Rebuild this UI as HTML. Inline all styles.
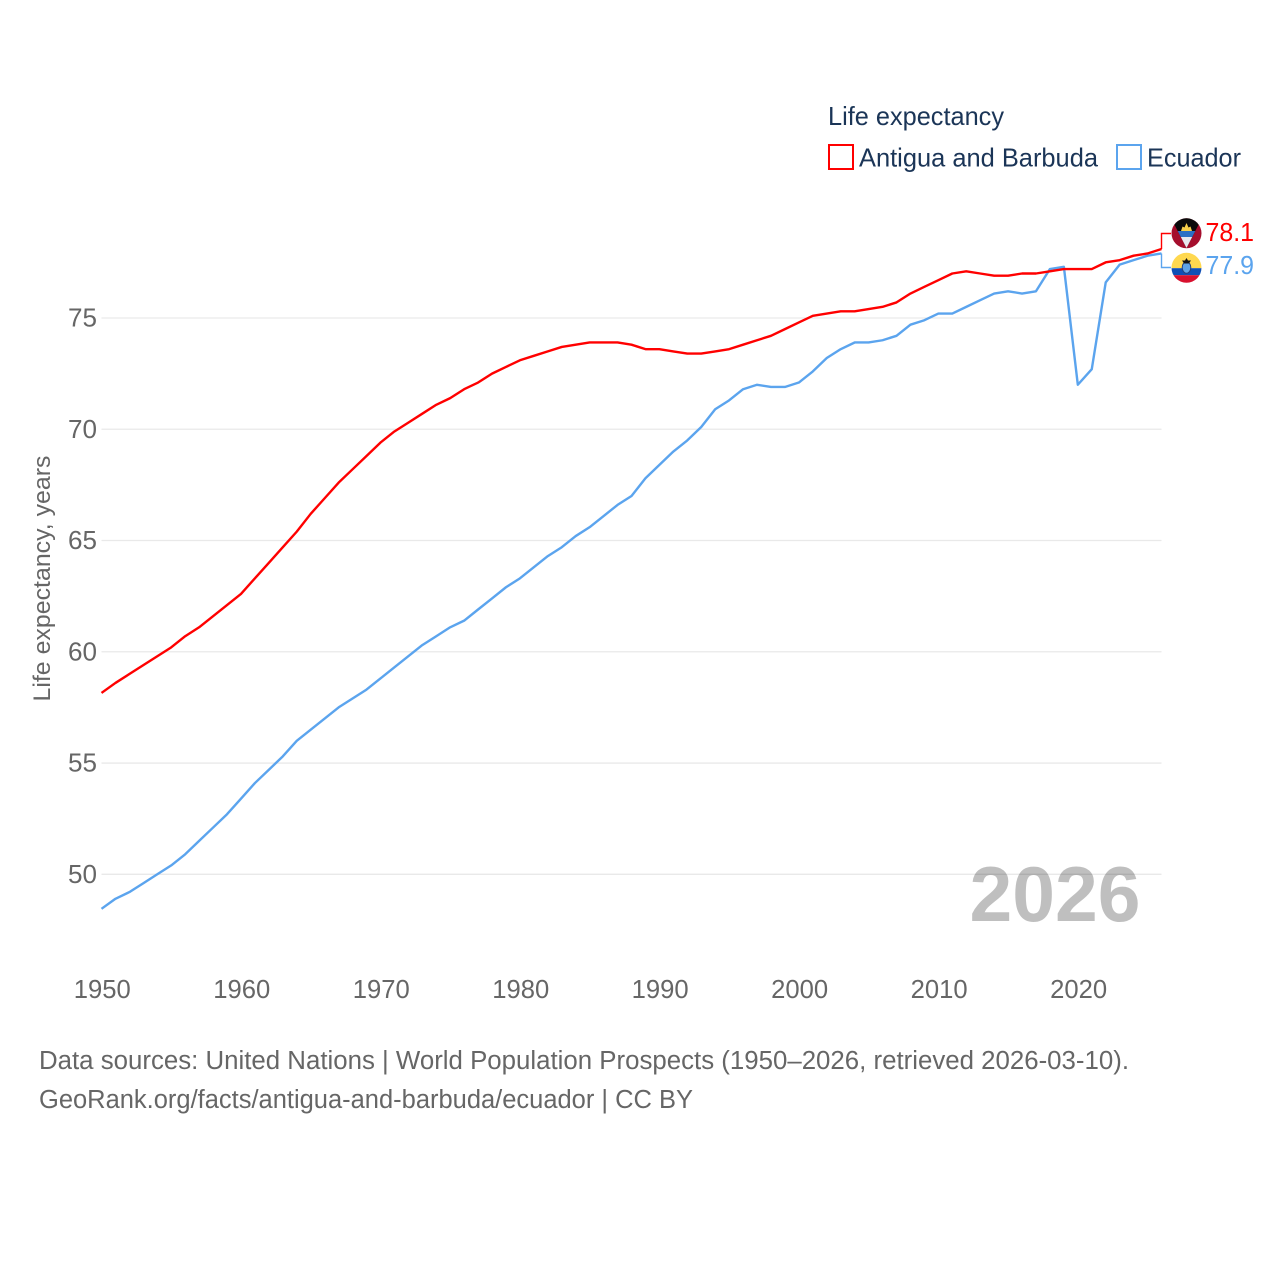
<!DOCTYPE html>
<html lang="en">
<head>
<meta charset="utf-8">
<title>Life expectancy: Antigua and Barbuda vs Ecuador</title>
<style>
html,body{margin:0;padding:0;background:#fff;}
svg{display:block;font-family:"Liberation Sans",sans-serif;}
</style>
</head>
<body>
<svg id="chart" xmlns="http://www.w3.org/2000/svg" width="1280" height="1280" viewBox="0 0 1280 1280">
  <defs>
    <clipPath id="clip-ag"><circle cx="1186.5" cy="233.3" r="15"/></clipPath>
    <clipPath id="clip-ec"><circle cx="1186.5" cy="267.8" r="15"/></clipPath>
  </defs>
  <rect width="1280" height="1280" fill="#fff"/>

  <g id="grid"></g>
  <g id="ylabels"></g>
  <g id="xlabels"></g>

  <text x="50" y="578.5" transform="rotate(-90 50 578.5)" text-anchor="middle" font-size="24.5" fill="#666" textLength="246" lengthAdjust="spacingAndGlyphs">Life expectancy, years</text>

  <text x="969.5" y="921" font-size="78" font-weight="bold" fill="#000" fill-opacity="0.25" textLength="171" lengthAdjust="spacingAndGlyphs">2026</text>

  <g id="series"></g>
  <g id="connectors"></g>

  <g clip-path="url(#clip-ag)">
    <rect x="1171" y="218" width="31" height="31" fill="#a50e2d"/>
    <polygon points="1171,218 1202,218 1186.5,248" fill="#0a0a0a"/>
    <polygon points="1181,231 1182.5,226.5 1184.5,227.5 1186.5,223 1188.5,227.5 1190.5,226.5 1192,231" fill="#f7cf4a"/>
    <polygon points="1177.7,231 1195.3,231 1192.2,237 1180.8,237" fill="#2b6fc4"/>
    <polygon points="1180.8,237 1192.2,237 1186.5,248" fill="#e8e8ee"/>
  </g>
  <g clip-path="url(#clip-ec)">
    <rect x="1171" y="252" width="31" height="16.2" fill="#ffd84f"/>
    <rect x="1171" y="268.2" width="31" height="7" fill="#0f4fb5"/>
    <rect x="1171" y="275.2" width="31" height="8" fill="#d8102e"/>
    <ellipse cx="1186.5" cy="267.5" rx="4.3" ry="5.8" fill="#5fa3e6" stroke="#24407a" stroke-width="1"/>
    <polygon points="1186.5,258 1188,260.5 1191,260.5 1188.8,263.5 1184.2,263.5 1182,260.5 1185,260.5" fill="#141414"/>
  </g>

  <text id="end-label-a" x="1205.5" y="241" font-size="26" fill="#ff0000" textLength="48.5" lengthAdjust="spacingAndGlyphs"></text>
  <text id="end-label-b" x="1205.5" y="274" font-size="26" fill="#5ba4ee" textLength="48.5" lengthAdjust="spacingAndGlyphs"></text>

  <g>
    <text x="828" y="125" font-size="26" fill="#1b3557" textLength="176" lengthAdjust="spacingAndGlyphs">Life expectancy</text>
    <g>
      <rect x="829" y="145" width="24" height="24" fill="#fff" stroke="#ff0000" stroke-width="2"/>
      <text x="859" y="166.5" font-size="26" fill="#1b3557" textLength="239" lengthAdjust="spacingAndGlyphs">Antigua and Barbuda</text>
    </g>
    <g>
      <rect x="1117" y="145" width="24" height="24" fill="#fff" stroke="#5ba4ee" stroke-width="2"/>
      <text x="1147" y="166.5" font-size="26" fill="#1b3557" textLength="94" lengthAdjust="spacingAndGlyphs">Ecuador</text>
    </g>
  </g>

  <g>
    <text x="39" y="1069" font-size="25.5" fill="#666" textLength="1090" lengthAdjust="spacingAndGlyphs">Data sources: United Nations | World Population Prospects (1950–2026, retrieved 2026-03-10).</text>
    <text x="39" y="1108" font-size="25.5" fill="#666" textLength="654" lengthAdjust="spacingAndGlyphs">GeoRank.org/facts/antigua-and-barbuda/ecuador | CC BY</text>
  </g>
</svg>
<script>
var firstYear = 1950;
var lastYear = 2026;
var yTicks = [50, 55, 60, 65, 70, 75];
var xTicks = [1950, 1960, 1970, 1980, 1990, 2000, 2010, 2020];
var antiguaValues = [58.15,58.6,59.0,59.4,59.8,60.2,60.7,61.1,61.6,62.1,62.6,63.3,64.0,64.7,65.4,66.2,66.9,67.6,68.2,68.8,69.4,69.9,70.3,70.7,71.1,71.4,71.8,72.1,72.5,72.8,73.1,73.3,73.5,73.7,73.8,73.9,73.9,73.9,73.8,73.6,73.6,73.5,73.4,73.4,73.5,73.6,73.8,74.0,74.2,74.5,74.8,75.1,75.2,75.3,75.3,75.4,75.5,75.7,76.1,76.4,76.7,77.0,77.1,77.0,76.9,76.9,77.0,77.0,77.1,77.2,77.2,77.2,77.5,77.6,77.8,77.9,78.1];
var ecuadorValues = [48.45,48.9,49.2,49.6,50.0,50.4,50.9,51.5,52.1,52.7,53.4,54.1,54.7,55.3,56.0,56.5,57.0,57.5,57.9,58.3,58.8,59.3,59.8,60.3,60.7,61.1,61.4,61.9,62.4,62.9,63.3,63.8,64.3,64.7,65.2,65.6,66.1,66.6,67.0,67.8,68.4,69.0,69.5,70.1,70.9,71.3,71.8,72.0,71.9,71.9,72.1,72.6,73.2,73.6,73.9,73.9,74.0,74.2,74.7,74.9,75.2,75.2,75.5,75.8,76.1,76.2,76.1,76.2,77.2,77.3,72.0,72.7,76.6,77.4,77.6,77.8,77.9];
var antiguaLabel = "78.1";
var ecuadorLabel = "77.9";

var NS = "http://www.w3.org/2000/svg";
var left = 101.5, right = 1161.5;
function xScale(year) { return left + (year - firstYear) * (right - left) / (lastYear - firstYear); }
function yScale(v) { return 874.3 - (v - 50) * (874.3 - 318) / 25; }
function make(tag, attrs, parent) {
  var el = document.createElementNS(NS, tag);
  for (var k in attrs) el.setAttribute(k, attrs[k]);
  parent.appendChild(el);
  return el;
}
var grid = document.getElementById("grid");
var yl = document.getElementById("ylabels");
var xl = document.getElementById("xlabels");
var seriesG = document.getElementById("series");
var conn = document.getElementById("connectors");

yTicks.forEach(function (t) {
  var line = make("line", {x1: left, x2: right, y1: yScale(t), y2: yScale(t), stroke: "#e9e9e9", "stroke-width": 1.3}, grid);
  
  
  var label = make("text", {x: 97, y: yScale(t) + 8.5, "text-anchor": "end", "font-size": 25.5, fill: "#666", textLength: 29, lengthAdjust: "spacingAndGlyphs"}, yl);
  
  
  label.textContent = t;
});
xTicks.forEach(function (t) {
  var label = make("text", {x: xScale(t) + 0.8, y: 998, "text-anchor": "middle", "font-size": 25.5, fill: "#666", textLength: 57, lengthAdjust: "spacingAndGlyphs"}, xl);
  
  
  label.textContent = t;
});
function pathFor(values) {
  return values.map(function (v, i) {
    return (i ? "L" : "M") + xScale(firstYear + i).toFixed(2) + " " + yScale(v).toFixed(2);
  }).join(" ");
}
var lineB = make("path", {d: pathFor(ecuadorValues), fill: "none", stroke: "#5ba4ee", "stroke-width": 2.4, "stroke-linejoin": "round"}, seriesG);


var lineA = make("path", {d: pathFor(antiguaValues), fill: "none", stroke: "#ff0000", "stroke-width": 2.4, "stroke-linejoin": "round"}, seriesG);



var endA = yScale(antiguaValues[antiguaValues.length - 1]);
var endB = yScale(ecuadorValues[ecuadorValues.length - 1]);
var connA = make("path", {d: "M" + right + " " + endA + " V233.5 H1171", fill: "none", stroke: "#ff0000", "stroke-width": 1.4}, conn);


var connB = make("path", {d: "M" + right + " " + endB + " V267.5 H1171", fill: "none", stroke: "#5ba4ee", "stroke-width": 1.4}, conn);



document.getElementById("end-label-a").textContent = antiguaLabel;
document.getElementById("end-label-b").textContent = ecuadorLabel;
</script>
</body>
</html>
